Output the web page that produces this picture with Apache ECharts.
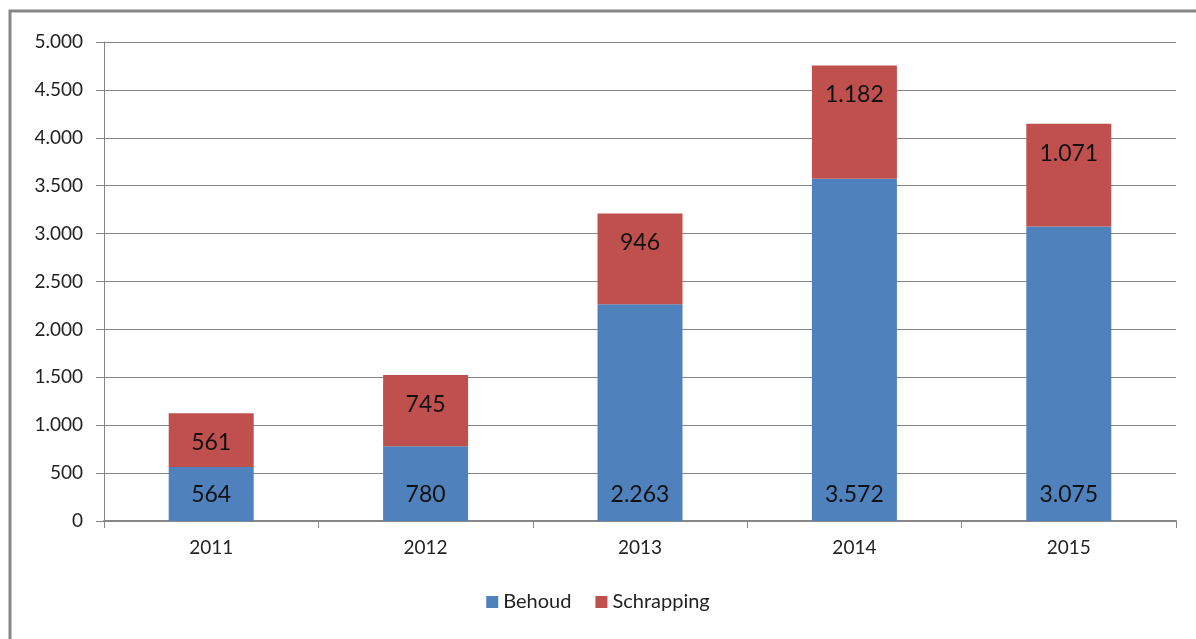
<!DOCTYPE html>
<html><head><meta charset="utf-8">
<script src="https://cdn.jsdelivr.net/npm/echarts@6/dist/echarts.min.js"></script>
<style>html,body{margin:0;padding:0;background:#fff}#c{width:1196px;height:639px}</style>
</head><body><div id="c"></div>
<script>
const categories = ['2011','2012','2013','2014','2015'];
const behoud = [564, 780, 2263, 3572, 3075];
const schrapping = [561, 745, 946, 1182, 1071];
const seriesNames = ['Behoud','Schrapping'];

function fmt(v){ return String(v).replace(/\B(?=(\d{3})+(?!\d))/g,'.'); }
const FONT = 'Lato';
const chart = echarts.init(document.getElementById('c'));
const lblBase = {show:true, color:'#111', fontSize:23, fontFamily:FONT, formatter:p=>fmt(p.value)};
chart.setOption({
  backgroundColor:'#fff',
  animation:false,
  graphic:[{type:'polyline', shape:{points:[[10,639],[10,11],[1196,11]]}, style:{stroke:'#868686', lineWidth:3, fill:null}}],
  legend:{data:seriesNames, bottom:22, left:'center', itemWidth:12, itemHeight:12, itemGap:24,
    textStyle:{fontFamily:FONT, fontSize:20, color:'#222'}, icon:'rect'},
  grid:{left:104, right:20, top:42, bottom:118},
  xAxis:{type:'category', data:categories,
    axisLine:{lineStyle:{color:'#868686', width:2}},
    axisTick:{show:true, length:7, lineStyle:{color:'#868686'}},
    axisLabel:{fontFamily:FONT, fontSize:19, color:'#222', margin:17}},
  yAxis:{type:'value', min:0, max:5000, interval:500,
    axisLine:{show:true, lineStyle:{color:'#868686'}},
    axisTick:{show:true, length:8, lineStyle:{color:'#868686'}},
    splitLine:{lineStyle:{color:'#868686'}},
    axisLabel:{fontFamily:FONT, fontSize:19, color:'#222', margin:21, formatter:v=>fmt(v)}},
  series:[
    {name:seriesNames[0], type:'bar', stack:'t', data:behoud, barWidth:85, itemStyle:{color:'#4F81BD'},
      label:Object.assign({position:'insideBottom', distance:15}, lblBase)},
    {name:seriesNames[1], type:'bar', stack:'t', data:schrapping, barWidth:85, itemStyle:{color:'#C0504D'},
      label:Object.assign({position:'insideTop', distance:18}, lblBase)}
  ]
});
</script></body></html>
